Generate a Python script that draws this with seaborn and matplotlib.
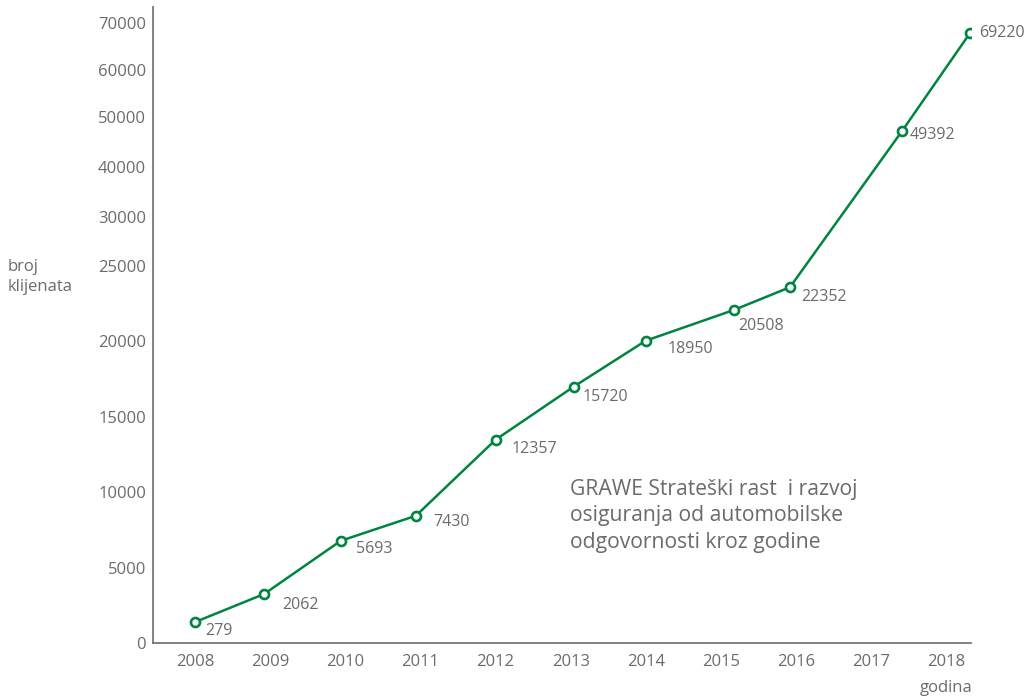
import numpy as np
import matplotlib
matplotlib.use('Agg')
import matplotlib.pyplot as plt
import seaborn as sns

# data
years = [2008, 2009, 2010, 2011, 2012, 2013, 2014, 2015, 2016, 2017, 2018]
# where the markers sit along the year axis (some are drawn between years)
point_year = [2008, 2008.92, 2009.94, 2010.94, 2012, 2013.04, 2014, 2015.18, 2015.92, 2017.41, 2018.32]
# marker level on the chart's own (stretched) y scale
marker_level = [1390, 3250, 6780, 8440, 13480, 17000, 20050, 22100, 23600, 47100, 68000]
# printed number of clients
clients = [279, 2062, 5693, 7430, 12357, 15720, 18950, 20508, 22352, 49392, 69220]
y_ticks = [0, 5000, 10000, 15000, 20000, 25000, 30000, 40000, 50000, 60000, 70000]

# the y axis is piecewise: evenly spaced up to 25000, compressed above
knot_val = [0, 25000, 30000, 40000, 50000, 60000, 70000, 80000]
knot_pos = [0, 5.0, 5.65, 6.32, 6.98, 7.6, 8.22, 8.84]

def fwd(v):
    return np.interp(v, knot_val, knot_pos)

def inv(p):
    return np.interp(p, knot_pos, knot_val)

# label offsets in pixels from each marker
label_off = [(10, -9), (18, -11), (15, -8), (17, -6), (16, -9), (9, -10),
             (22, -8), (4, -16), (11, -10), (8, -4), (9, 0)]

green = '#00843f'
grey = '#6b6b6e'

sns.set_style('white')
plt.rcParams['font.family'] = ['Open Sans', 'DejaVu Sans']

fig = plt.figure(figsize=(10.26, 6.99), dpi=100)
ax = fig.add_axes([153 / 1026, 56 / 699, 818 / 1026, 636 / 699])
ax.set_yscale('function', functions=(fwd, inv))

sns.lineplot(x=point_year, y=marker_level, ax=ax, color=green, linewidth=1.8,
             marker='o', markersize=6.5, markerfacecolor='white',
             markeredgecolor=green, markeredgewidth=1.9)

for xv, yv, txt, off in zip(point_year, marker_level, clients, label_off):
    ax.annotate(str(txt), (xv, yv), xytext=off, textcoords='offset pixels',
                ha='left', va='center', fontsize=11.5, color=grey)

ax.set_xlim(2007.44, 2018.33)
ax.set_ylim(0, 73500)
ax.set_xticks(years)
ax.set_xticklabels([str(y) for y in years])
ax.set_yticks(y_ticks)
ax.set_yticklabels([str(t) for t in y_ticks])
ax.tick_params(axis='x', length=0, pad=8, labelsize=12, colors=grey)
ax.tick_params(axis='y', length=0, pad=5, labelsize=12, colors=grey)
ax.minorticks_off()
sns.despine(ax=ax)
for s in ['left', 'bottom']:
    ax.spines[s].set_color('#777777')
    ax.spines[s].set_linewidth(1.3)
ax.grid(False)

fig.text(8 / 1026, 1 - 277 / 699, 'broj\nklijenata', ha='left', va='center',
         fontsize=12, color=grey, linespacing=1.35)
fig.text(973 / 1026, 1 - 688 / 699, 'godina', ha='right', va='center',
         fontsize=12, color=grey)
fig.text(570 / 1026, 1 - 516 / 699,
         'GRAWE Strateški rast  i razvoj\nosiguranja od automobilske\nodgovornosti kroz godine',
         ha='left', va='center', fontsize=15.2, color=grey, linespacing=1.34)

fig.savefig('out.png', dpi=100)
